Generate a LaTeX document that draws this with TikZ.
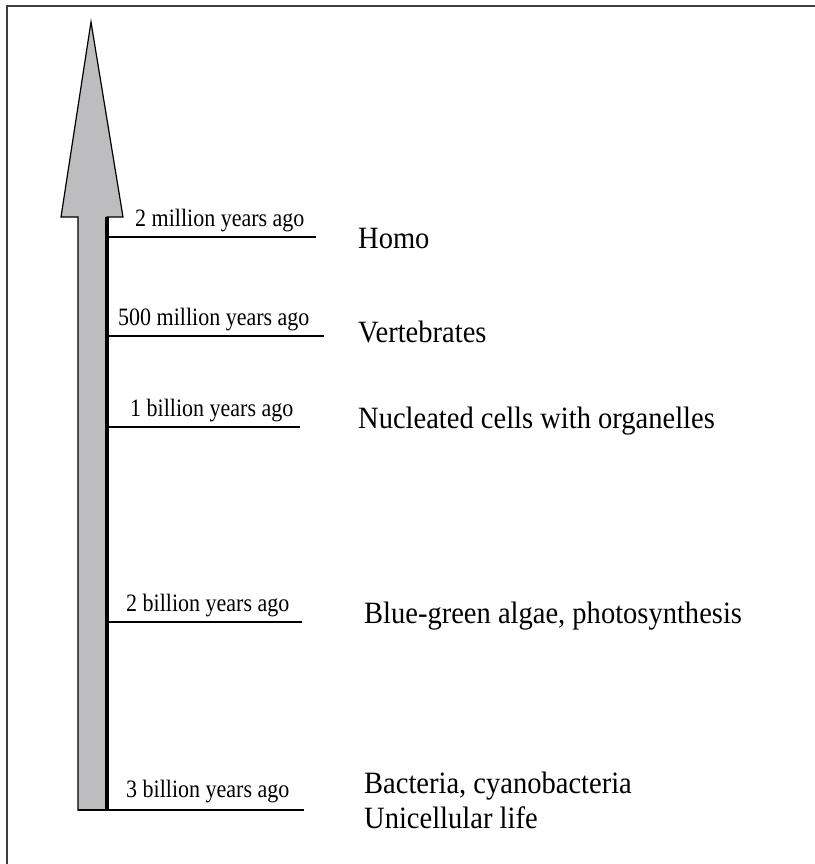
\documentclass[tikz,border=0pt]{standalone}
\usepackage{fontspec}
\setmainfont{Liberation Serif}
\newfontfamily\agefont[FakeStretch=0.88]{Liberation Serif}
\newfontfamily\taxonfont[FakeStretch=0.92]{Liberation Serif}
\usetikzlibrary{calc, positioning}

\tikzset{
  agelabel/.style={anchor=base west, inner sep=0pt, font=\fontsize{25}{28}\agefont},
  taxon/.style={anchor=base west, inner sep=0pt, font=\fontsize{31}{36}\taxonfont},
  tick/.style={line width=1.8pt}
}

\begin{document}
\begin{tikzpicture}[x=1pt,y=-1pt]
  \definecolor{shaftgray}{RGB}{189,189,191}
  \definecolor{framegray}{RGB}{62,62,62}
  \def\shaftL{78}
  \def\shaftR{107}
  \def\headY{217}
  \def\baseY{810}
  \useasboundingbox (0,0) rectangle (814,864);
  % frame: only its top and left edges are on the page
  \draw[framegray, line width=2pt] (7,880) -- (7,6) -- (830,6);
  % time arrow
  \filldraw[fill=shaftgray, draw=black, line width=1.2pt]
    (\shaftL,\baseY) -- (\shaftL,\headY) -- (61,\headY) -- (91,22)
    -- (123,\headY) -- (\shaftR,\headY) -- (\shaftR,\baseY) -- cycle;
  \draw[line width=3.2pt] (\shaftR,\headY) -- (\shaftR,\baseY);
  % ticks with ages
  \foreach \i/\y/\xend/\xlab/\age in {1/237/316/135/2 million years ago,
                                      2/336/324/118/500 million years ago,
                                      3/427/300/130/1 billion years ago,
                                      4/622/302/126/2 billion years ago} {
    \draw[tick] (\shaftR,\y) coordinate (tickA\i) -- (\xend,\y) coordinate (tickB\i);
    \node[agelabel] (age\i) at (\xlab,\y-11) {\age};
  }
  \draw[tick] (\shaftL,\baseY) coordinate (tickA5) -- (304,\baseY) coordinate (tickB5);
  \node[agelabel] (age5) at (126,797) {3 billion years ago};
  % what appeared
  \node[taxon] (homo) at (358,248) {Homo};
  \node[taxon] (vert) at (358,342) {Vertebrates};
  \node[taxon] (nucl) at (358,428) {Nucleated cells with organelles};
  \node[taxon] (algae) at (364,623) {Blue-green algae, photosynthesis};
  \node[taxon] (bact) at (364,793) {Bacteria, cyanobacteria};
  \node[taxon] (unic) at (364,828) {Unicellular life};
\end{tikzpicture}
\end{document}
